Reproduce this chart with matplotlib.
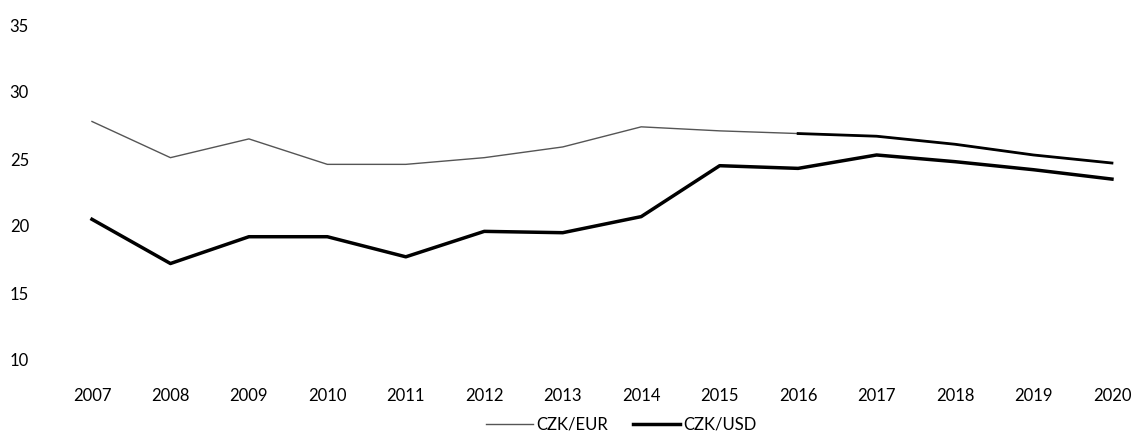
import matplotlib.pyplot as plt

years = list(range(2007, 2021))
czk_eur = [27.8, 25.1, 26.5, 24.6, 24.6, 25.1, 25.9, 27.4, 27.1, 26.9, 26.7, 26.1, 25.3, 24.7]
czk_usd = [20.5, 17.2, 19.2, 19.2, 17.7, 19.6, 19.5, 20.7, 24.5, 24.3, 25.3, 24.8, 24.2, 23.5]
y_ticks = [10, 15, 20, 25, 30, 35]

plt.rcParams['font.family'] = ['Lato', 'DejaVu Sans']

fig = plt.figure(figsize=(11.37, 4.38), dpi=100)
ax = fig.add_axes([50 / 1137, 78 / 438, 1080 / 1137, 335 / 438])

ax.plot(years, czk_eur, color='#555555', lw=1.0, label='CZK/EUR')
# the scanned original shows the EUR line heavier from 2016 on
ax.plot(years[9:], czk_eur[9:], color='black', lw=2.0)
ax.plot(years, czk_usd, color='black', lw=2.5, label='CZK/USD')

ax.set_xlim(2006.465, 2020.23)
ax.set_ylim(10, 35)
ax.set_xticks(years)
ax.set_yticks(y_ticks)
ax.tick_params(axis='both', length=0, labelsize=12)
ax.tick_params(axis='x', pad=20)
ax.tick_params(axis='y', pad=29)
for lbl in ax.get_yticklabels():
    lbl.set_horizontalalignment('left')
for s in ax.spines.values():
    s.set_visible(False)

ax.legend(loc='upper center', bbox_to_anchor=(0.529, -0.125), ncol=2, frameon=False,
          fontsize=12, handlelength=2.8, columnspacing=1.5, handletextpad=0.2)

fig.savefig('out.png', dpi=100)
